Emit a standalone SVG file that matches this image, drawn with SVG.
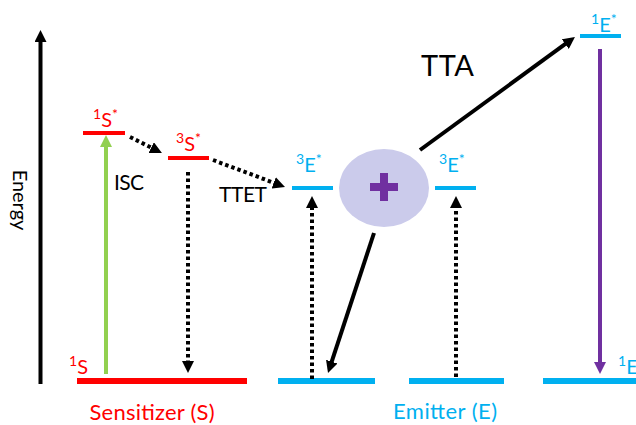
<svg xmlns="http://www.w3.org/2000/svg" width="636" height="425" viewBox="0 0 636 425">
<style>
text{font-family:Lato,"Open Sans","Liberation Sans",sans-serif}
.red{fill:#ff0000}
.blue{fill:#00b0f0}
.lvlR{stroke:#ff0000;stroke-width:4}
.lvlB{stroke:#00b0f0;stroke-width:4}
.gndR{stroke:#ff0000;stroke-width:6}
.gndB{stroke:#00b0f0;stroke-width:6}
.lab{font-size:20px}
.sup{font-size:14px}
.solid{stroke:#000;stroke-width:4;fill:none}
.dot{stroke:#000;stroke-width:4;stroke-dasharray:3.5 3;fill:none}
.blk{font-size:21px;fill:#000}
</style>
<defs>
<marker id="ahK" markerUnits="userSpaceOnUse" markerWidth="12" markerHeight="12" refX="4" refY="6" orient="auto"><path d="M0,0 L12,6 L0,12 z" fill="#000"/></marker>
<marker id="ahG" markerUnits="userSpaceOnUse" markerWidth="12" markerHeight="12" refX="4" refY="6" orient="auto"><path d="M0,0 L12,6 L0,12 z" fill="#92d050"/></marker>
<marker id="ahP" markerUnits="userSpaceOnUse" markerWidth="12" markerHeight="12" refX="4" refY="6" orient="auto"><path d="M0,0 L12,6 L0,12 z" fill="#7030a0"/></marker>
</defs>

<g id="energy-axis">
<line x1="40.5" y1="384" x2="40.5" y2="38" class="solid" marker-end="url(#ahK)"/>
<text transform="translate(13,200) rotate(90)" text-anchor="middle" font-size="20">Energy</text>
</g>

<g id="S1-ground">
<line x1="77" y1="381" x2="247" y2="381" class="gndR"/>
<text x="69" y="374" class="red lab"><tspan class="sup" dy="-8">1</tspan><tspan dy="8">S</tspan></text>
<text x="152" y="420" text-anchor="middle" class="red" font-size="22" textLength="125">Sensitizer (S)</text>
</g>

<g id="S1-excited">
<line x1="83" y1="133" x2="125" y2="133" class="lvlR"/>
<text x="93" y="127" class="red lab"><tspan class="sup" dy="-8">1</tspan><tspan dy="8">S</tspan><tspan class="sup" dy="-8">*</tspan></text>
</g>

<g id="S3-excited">
<line x1="168" y1="158" x2="209" y2="158" class="lvlR"/>
<text x="176" y="151" class="red lab"><tspan class="sup" dy="-8">3</tspan><tspan dy="8">S</tspan><tspan class="sup" dy="-8">*</tspan></text>
</g>

<g id="E-ground-1">
<line x1="278" y1="381" x2="375" y2="381" class="gndB"/>
</g>
<g id="E-ground-2">
<line x1="409" y1="381" x2="504" y2="381" class="gndB"/>
<text x="445" y="419" text-anchor="middle" class="blue" font-size="22" textLength="104">Emitter (E)</text>
</g>
<g id="E-ground-3">
<line x1="543" y1="381" x2="636" y2="381" class="gndB"/>
<text x="618" y="374" class="blue lab"><tspan class="sup" dy="-8">1</tspan><tspan dy="8">E</tspan></text>
</g>

<g id="E3-left">
<line x1="292" y1="188" x2="333" y2="188" class="lvlB"/>
<text x="296" y="172" class="blue lab"><tspan class="sup" dy="-8">3</tspan><tspan dy="8">E</tspan><tspan class="sup" dy="-8">*</tspan></text>
</g>

<g id="E3-right">
<line x1="435" y1="188" x2="476" y2="188" class="lvlB"/>
<text x="439" y="172" class="blue lab"><tspan class="sup" dy="-8">3</tspan><tspan dy="8">E</tspan><tspan class="sup" dy="-8">*</tspan></text>
</g>

<g id="annihilation">
<ellipse cx="384" cy="188" rx="45" ry="39" fill="#cbcbeb"/>
<rect x="370" y="183" width="28" height="8" fill="#7030a0"/>
<rect x="380" y="173" width="8" height="28" fill="#7030a0"/>
</g>

<g id="E1-excited">
<line x1="580" y1="36" x2="621" y2="36" class="lvlB"/>
<text x="591" y="32" class="blue lab"><tspan class="sup" dy="-8">1</tspan><tspan dy="8">E</tspan><tspan class="sup" dy="-8">*</tspan></text>
</g>

<g id="connectors">
<line x1="106" y1="374" x2="106" y2="143" stroke="#92d050" stroke-width="4" marker-end="url(#ahG)"/>
<line x1="130" y1="137" x2="154.8" y2="149.4" class="dot" marker-end="url(#ahK)"/>
<line x1="213" y1="160" x2="277.5" y2="184.2" class="dot" marker-end="url(#ahK)"/>
<line x1="188" y1="172" x2="188" y2="365" class="dot" marker-end="url(#ahK)"/>
<line x1="312" y1="379" x2="312" y2="204" class="dot" marker-end="url(#ahK)"/>
<line x1="456" y1="377" x2="456" y2="204" class="dot" marker-end="url(#ahK)"/>
<line x1="374" y1="233" x2="330.5" y2="365.4" class="solid" marker-end="url(#ahK)"/>
<line x1="420" y1="150" x2="568.5" y2="41.7" class="solid" marker-end="url(#ahK)"/>
<line x1="600" y1="49" x2="600" y2="366" stroke="#7030a0" stroke-width="4" marker-end="url(#ahP)"/>
<text x="114" y="190" class="blk" textLength="30">ISC</text>
<text x="219" y="202" class="blk" textLength="48">TTET</text>
<text x="421" y="76" font-family="'Liberation Sans',Arial,sans-serif" font-size="29" textLength="53">TTA</text>
</g>
</svg>
